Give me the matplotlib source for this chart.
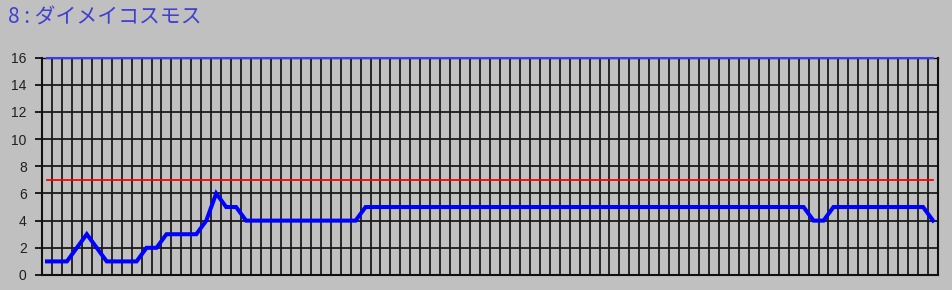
import numpy as np
import matplotlib
matplotlib.use('Agg')
import matplotlib.pyplot as plt

title = '8 : ダイメイコスモス'
values = [1, 1, 1, 2, 3, 2, 1, 1, 1, 1,
          2, 2, 3, 3, 3, 3, 4, 6, 5, 5,
          4, 4, 4, 4, 4, 4, 4, 4, 4, 4,
          4, 4, 5, 5, 5, 5, 5, 5, 5, 5,
          5, 5, 5, 5, 5, 5, 5, 5, 5, 5,
          5, 5, 5, 5, 5, 5, 5, 5, 5, 5,
          5, 5, 5, 5, 5, 5, 5, 5, 5, 5,
          5, 5, 5, 5, 5, 5, 5, 4, 4, 5,
          5, 5, 5, 5, 5, 5, 5, 5, 5, 4]
ref_level = 7
y_max = 16
y_ticks = [0, 2, 4, 6, 8, 10, 12, 14, 16]

n = len(values)
x = np.arange(n) + 0.5

bg = '#c0c0c0'
fig = plt.figure(figsize=(9.53, 2.90), dpi=100, facecolor=bg)
ax = fig.add_axes([42 / 953, 15 / 290, 896 / 953, 217.5 / 290], facecolor=bg)

ax.set_xlim(0, n)
ax.set_ylim(0, y_max)

# grid: every column, every 2 units
for i in range(1, n):
    ax.axvline(i, color='#1a1a1a', lw=1.3, zorder=1)
for t in y_ticks[1:-1]:
    ax.axhline(t, color='#1a1a1a', lw=1.3, zorder=1)

ax.plot(x, [ref_level] * n, color='#ff0000', lw=1.3, zorder=2)
ax.plot(x, [y_max] * n, color='#3c3cf0', lw=1.5, zorder=3, clip_on=False)
ax.plot(x, values, color='#0000ff', lw=2.9, zorder=4, solid_joinstyle='miter')

for s in ['left', 'bottom', 'right']:
    ax.spines[s].set_color('#101010')
    ax.spines[s].set_linewidth(1.5)
ax.spines['top'].set_color('#101010')
ax.spines['top'].set_linewidth(1.0)

ax.set_xticks([])
ax.set_yticks(y_ticks)
ax.set_yticklabels([str(t) for t in y_ticks], fontsize=10, family='Liberation Sans', color='#202020')
ax.tick_params(axis='y', length=5, width=1.3, color='#101010', pad=6)

fig.text(8 / 953, 1 - 18 / 290, title, color='#4040d0', fontsize=15,
         family=['Noto Sans CJK JP', 'DejaVu Sans'], va='center', ha='left')

fig.savefig('out.png', dpi=100, facecolor=bg)
